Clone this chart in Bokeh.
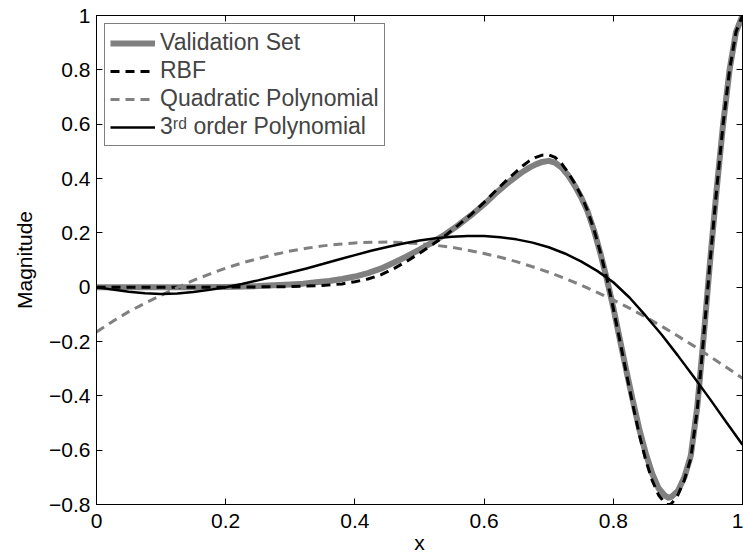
from bokeh.plotting import figure
from bokeh.models import (Range1d, LinearAxis, FixedTicker, CustomJSTickFormatter,
                          Legend, LegendItem)
from bokeh.embed import file_html
from bokeh.resources import INLINE

# ---- data ----
x_val = [0, 0.05, 0.1, 0.15, 0.2, 0.25, 0.3, 0.32, 0.34, 0.36, 0.38, 0.4, 0.42, 0.44, 0.46,
         0.48, 0.5, 0.52, 0.54, 0.56, 0.58, 0.6, 0.62, 0.64, 0.66, 0.67, 0.68, 0.69, 0.7,
         0.71, 0.72, 0.73, 0.74, 0.75, 0.76, 0.77, 0.78, 0.79, 0.8, 0.81, 0.82, 0.83, 0.84,
         0.85, 0.86, 0.87, 0.88, 0.886, 0.89, 0.9, 0.91, 0.92, 0.93, 0.94, 0.95, 0.96, 0.97,
         0.98, 0.99, 1.0]
y_val = [0, 0, 0, 0, 0.001, 0.004, 0.01, 0.013, 0.018, 0.023, 0.03, 0.039, 0.052, 0.068,
         0.09, 0.113, 0.138, 0.165, 0.195, 0.228, 0.265, 0.305, 0.35, 0.39, 0.425, 0.44,
         0.452, 0.461, 0.465, 0.458, 0.44, 0.412, 0.375, 0.332, 0.28, 0.21, 0.125, 0.03,
         -0.075, -0.19, -0.305, -0.415, -0.52, -0.61, -0.685, -0.74, -0.768, -0.775, -0.772,
         -0.75, -0.7, -0.62, -0.44, -0.18, 0.1, 0.36, 0.6, 0.8, 0.94, 1.0]

x_rbf = [0, 0.05, 0.1, 0.15, 0.2, 0.25, 0.3, 0.35, 0.38, 0.4, 0.42, 0.44, 0.46, 0.48,
         0.5, 0.52, 0.54, 0.56, 0.58, 0.6, 0.62, 0.64, 0.66, 0.67, 0.68, 0.69, 0.7, 0.71,
         0.72, 0.73, 0.74, 0.75, 0.76, 0.77, 0.78, 0.79, 0.8, 0.81, 0.82, 0.83, 0.84, 0.85,
         0.86, 0.87, 0.88, 0.885, 0.89, 0.9, 0.91, 0.92, 0.93, 0.94, 0.95, 0.96, 0.97, 0.98,
         0.99, 1.0]
y_rbf = [0, 0, 0, 0, 0, 0.001, 0.002, 0.006, 0.012, 0.02, 0.03, 0.045, 0.068, 0.095,
         0.125, 0.157, 0.19, 0.228, 0.268, 0.312, 0.36, 0.405, 0.447, 0.465, 0.478, 0.486,
         0.487, 0.478, 0.455, 0.422, 0.383, 0.338, 0.283, 0.213, 0.128, 0.032, -0.078,
         -0.195, -0.315, -0.43, -0.54, -0.635, -0.71, -0.765, -0.795, -0.802, -0.797, -0.765,
         -0.71, -0.63, -0.45, -0.18, 0.1, 0.36, 0.6, 0.8, 0.94, 1.0]

x_poly = [0, 0.025, 0.05, 0.075, 0.1, 0.125, 0.15, 0.175, 0.2, 0.225, 0.25, 0.275, 0.3,
          0.325, 0.35, 0.375, 0.4, 0.425, 0.45, 0.475, 0.5, 0.525, 0.55, 0.575, 0.6, 0.625,
          0.65, 0.675, 0.7, 0.725, 0.75, 0.775, 0.8, 0.825, 0.85, 0.875, 0.9, 0.925, 0.95,
          0.975, 1.0]
y_quad = [-0.165, -0.126, -0.09, -0.059, -0.03, -0.002, 0.025, 0.048, 0.07, 0.089, 0.105,
          0.12, 0.133, 0.143, 0.152, 0.158, 0.163, 0.165, 0.166, 0.164, 0.16, 0.154, 0.147,
          0.136, 0.124, 0.11, 0.094, 0.075, 0.055, 0.032, 0.008, -0.019, -0.047, -0.077,
          -0.11, -0.144, -0.18, -0.217, -0.256, -0.295, -0.335]
y_cubic = [0, -0.009, -0.017, -0.022, -0.025, -0.023, -0.018, -0.01, 0.0, 0.012, 0.025,
           0.039, 0.054, 0.069, 0.085, 0.102, 0.118, 0.134, 0.148, 0.161, 0.172, 0.18, 0.186,
           0.188, 0.188, 0.184, 0.176, 0.164, 0.147, 0.124, 0.095, 0.06, 0.018, -0.038, -0.105,
           -0.175, -0.252, -0.332, -0.413, -0.497, -0.58]

x_ticks = [0, 0.2, 0.4, 0.6, 0.8, 1.0]
y_ticks = [-0.8, -0.6, -0.4, -0.2, 0, 0.2, 0.4, 0.6, 0.8, 1.0]

labels = ["Validation Set", "RBF", "Quadratic Polynomial", "3\u02b3\u1d48 order Polynomial"]

FONT = "Liberation Sans"
GRAY = "#808080"

p = figure(width=743, height=556, x_range=Range1d(0, 1), y_range=Range1d(-0.8, 1),
           output_backend="svg", toolbar_location=None,
           min_border_left=96, min_border_right=1, min_border_top=15, min_border_bottom=51)
p.grid.visible = False
p.outline_line_color = "black"
p.outline_line_width = 1
p.background_fill_color = "white"
p.border_fill_color = "white"

fmt = CustomJSTickFormatter(code="""
var s = (Math.round(tick*10)/10).toString();
return s.replace('-', '\u2212');
""")

for ax, ticks in ((p.xaxis[0], x_ticks), (p.yaxis[0], y_ticks)):
    ax.ticker = FixedTicker(ticks=ticks)
    ax.formatter = fmt
    ax.major_tick_in = 6
    ax.major_tick_out = 0
    ax.minor_tick_line_color = None
    ax.major_label_text_font = FONT
    ax.major_label_text_font_size = "21px"
    ax.major_label_text_color = "black"
    ax.axis_label_text_font = FONT
    ax.axis_label_text_font_size = "21px"
    ax.axis_label_text_font_style = "normal"
    ax.axis_label_text_color = "black"
    ax.axis_line_color = "black"
    ax.major_tick_line_color = "black"

p.xaxis[0].axis_label = "x"
p.xaxis[0].major_label_standoff = 9
p.xaxis[0].axis_label_standoff = 0
p.yaxis[0].axis_label = "Magnitude"
p.yaxis[0].major_label_standoff = 6
p.yaxis[0].axis_label_standoff = 10

blank = CustomJSTickFormatter(code="return '';")
for loc, ticks in (("above", x_ticks), ("right", y_ticks)):
    ax = LinearAxis(ticker=FixedTicker(ticks=ticks), formatter=blank,
                    major_label_text_font_size="1px",
                    major_label_standoff=0, major_tick_in=6, major_tick_out=0,
                    minor_tick_line_color=None, axis_line_color="black",
                    major_tick_line_color="black")
    p.add_layout(ax, loc)

r_val = p.line(x_val, y_val, line_color=GRAY, line_width=6, line_join="round")
r_rbf = p.line(x_rbf, y_rbf, line_color="black", line_width=3, line_dash="9 6")
r_quad = p.line(x_poly, y_quad, line_color=GRAY, line_width=3, line_dash="9 6")
r_cub = p.line(x_poly, y_cubic, line_color="black", line_width=2.5)

legend = Legend(items=[LegendItem(label=labels[0], renderers=[r_val]),
                       LegendItem(label=labels[1], renderers=[r_rbf]),
                       LegendItem(label=labels[2], renderers=[r_quad]),
                       LegendItem(label=labels[3], renderers=[r_cub])],
                location="top_left", margin=8, padding=5, spacing=1,
                glyph_width=45, glyph_height=22, label_height=22, label_standoff=5,
                label_text_font=FONT, label_text_font_size="23px",
                border_line_color="black", border_line_width=1,
                background_fill_color="white", background_fill_alpha=1)
p.add_layout(legend)

open("out.html", "w").write(file_html(p, INLINE))
